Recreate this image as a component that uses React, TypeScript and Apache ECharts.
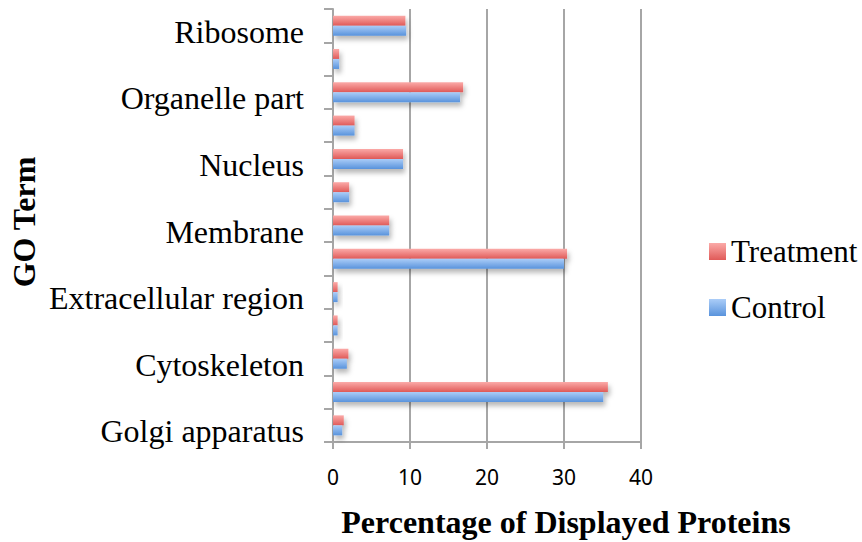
import React, { useEffect, useRef } from "react";
import * as echarts from "echarts";

const categories = [
  "Golgi apparatus",
  "Cytoplasm",
  "Cytoskeleton",
  "Endoplasmic reticulum",
  "Extracellular region",
  "Intracellular",
  "Membrane",
  "Mitochondrion",
  "Nucleus",
  "Organelle",
  "Organelle part",
  "Plasma membrane",
  "Ribosome",
];
const treatment = [1.4, 35.7, 2.0, 0.6, 0.6, 30.4, 7.3, 2.1, 9.1, 2.8, 16.9, 0.8, 9.4];
const control = [1.2, 35.1, 1.8, 0.6, 0.6, 30.0, 7.3, 2.1, 9.1, 2.8, 16.5, 0.8, 9.5];
const xTicks = { min: 0, max: 40, interval: 10 };

const serif = "'Liberation Serif', 'Times New Roman', serif";

const redGrad = new echarts.graphic.LinearGradient(0, 0, 0, 1, [
  { offset: 0, color: "#fbaaa8" },
  { offset: 1, color: "#e05a58" },
]);
const blueGrad = new echarts.graphic.LinearGradient(0, 0, 0, 1, [
  { offset: 0, color: "#abcdf8" },
  { offset: 1, color: "#5993dc" },
]);

export default function App() {
  const ref = useRef<HTMLDivElement>(null);
  useEffect(() => {
    if (!ref.current) return;
    const chart = echarts.init(ref.current, undefined, { renderer: "svg" });
    const shadow = {
      shadowBlur: 5,
      shadowColor: "rgba(0,0,0,0.28)",
      shadowOffsetX: 2,
      shadowOffsetY: 4,
    };
    chart.setOption({
      animation: false,
      backgroundColor: "#ffffff",
      grid: { left: 333, top: 9, width: 308, height: 433, containLabel: false },
      legend: {
        orient: "vertical",
        left: 704,
        top: 231,
        itemWidth: 17,
        itemHeight: 17,
        itemGap: 25,
        icon: "rect",
        data: ["Treatment", "Control"],
        textStyle: { fontFamily: serif, fontSize: 31, color: "#000" },
      },
      xAxis: {
        type: "value",
        min: xTicks.min,
        max: xTicks.max,
        interval: xTicks.interval,
        axisLine: { show: true, lineStyle: { color: "#a6a6a6", width: 2 } },
        axisTick: { show: true, length: 7, lineStyle: { color: "#a6a6a6", width: 2 } },
        axisLabel: {
          margin: 24,
          fontFamily: "'Noto Sans', sans-serif",
          fontSize: 21,
          color: "#000",
        },
        splitLine: { show: true, lineStyle: { color: "#a6a6a6", width: 2 } },
      },
      yAxis: {
        type: "category",
        data: categories,
        axisLine: { show: true, lineStyle: { color: "#a6a6a6", width: 2 } },
        axisTick: {
          show: true,
          interval: 0,
          length: 9,
          lineStyle: { color: "#a6a6a6", width: 2 },
        },
        axisLabel: {
          interval: 1,
          margin: 29,
          fontFamily: serif,
          fontSize: 32,
          color: "#000",
          verticalAlign: "top",
          lineHeight: 12,
        },
        splitLine: { show: false },
      },
      series: [
        {
          name: "Treatment",
          type: "bar",
          data: treatment,
          barWidth: 10,
          barGap: "0%",
          itemStyle: { color: redGrad, ...shadow },
        },
        {
          name: "Control",
          type: "bar",
          data: control,
          barWidth: 10,
          barGap: "0%",
          itemStyle: { color: blueGrad, ...shadow },
        },
      ],
      graphic: [
        {
          type: "text",
          x: 566,
          y: 522,
          style: {
            text: "Percentage of Displayed Proteins",
            align: "center",
            verticalAlign: "middle",
            font: `bold 32px ${serif}`,
            fill: "#000",
          },
        },
        {
          type: "text",
          x: 24,
          y: 222,
          rotation: Math.PI / 2,
          style: {
            text: "GO Term",
            align: "center",
            verticalAlign: "middle",
            font: `bold 32px ${serif}`,
            fill: "#000",
          },
        },
      ],
    });
    return () => chart.dispose();
  }, []);
  return (
    <div
      ref={ref}
      style={{ position: "fixed", left: 0, top: 0, width: 862, height: 542, background: "#fff" }}
    />
  );
}
